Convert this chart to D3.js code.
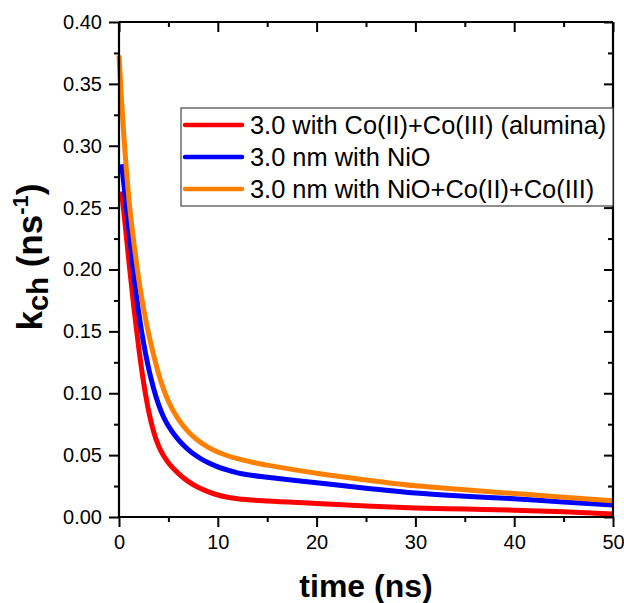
<!DOCTYPE html>
<html><head><meta charset="utf-8">
<script src="https://cdn.jsdelivr.net/npm/d3@7"></script>
<style>
html,body{margin:0;padding:0;background:#fff;}
text{font-family:"Liberation Sans",Arial,sans-serif;}
</style></head>
<body><svg id="c" width="624" height="603"></svg>
<script>
const seriesNames = ["3.0 with Co(II)+Co(III) (alumina)", "3.0 nm with NiO", "3.0 nm with NiO+Co(II)+Co(III)"];
const seriesColors = ["#ff0000", "#0000ff", "#ff8000"];

const redT = [0.25,0.5,1,1.5,2,2.5,3,3.5,4,4.5,5,6,7,8,9,10,11,12,13,15,20,25,30,35,40,45,50];
const redV = [0.263,0.2456,0.2066,0.1696,0.1366,0.1081,0.0856,0.0691,0.0576,0.0496,0.0438,0.0353,0.0288,0.0240,0.0205,0.0178,0.0160,0.0148,0.0140,0.0129,0.011,0.0089,0.0073,0.0064,0.0055,0.0042,0.0025];

const blueT = [0.27,0.5,1,1.5,2,2.5,3,3.5,4,4.5,5,6,7,8,9,10,11,12,13,15,20,25,30,35,40,45,50];
const blueV = [0.285,0.268,0.232,0.196,0.165,0.140,0.120,0.104,0.091,0.081,0.0735,0.0625,0.0545,0.0485,0.0440,0.0405,0.0378,0.0357,0.0342,0.0322,0.0277,0.0233,0.0193,0.0168,0.0148,0.0122,0.0097];

const orangeT = [0,0.25,0.5,0.75,1,1.5,2,2.5,3,3.5,4,4.5,5,6,7,8,9,10,11,12,13,15,20,25,30,35,40,45,50];
const orangeV = [0.373,0.338,0.307,0.280,0.257,0.222,0.192,0.168,0.148,0.131,0.116,0.1035,0.0935,0.0790,0.0690,0.0618,0.0565,0.0525,0.0495,0.0471,0.0451,0.0419,0.0353,0.0299,0.0252,0.022,0.019,0.016,0.0132];

const xMajor = [0,10,20,30,40,50];
const yMajor = [0,0.05,0.10,0.15,0.20,0.25,0.30,0.35,0.40];

const svg = d3.select("#c");
const L=119, R=613, T=22, B=517;
const x = d3.scaleLinear().domain([0,50]).range([L,R]);
const y = d3.scaleLinear().domain([0,0.40]).range([B,T]);

const series = [
  {t:redT, v:redV}, {t:blueT, v:blueV}, {t:orangeT, v:orangeV}
];

// curves
const line = d3.line().x(d=>x(d[0])).y(d=>y(d[1])).curve(d3.curveMonotoneX);
series.forEach((s,i)=>{
  svg.append("path").datum(s.t.map((t,j)=>[t,s.v[j]]))
    .attr("d", line).attr("fill","none").attr("stroke",seriesColors[i])
    .attr("stroke-width",5).attr("stroke-linejoin","round");
});

const xMinor = d3.range(5,50,10);
const yMinor = d3.range(0.025,0.40,0.05);

// axes
const fmtY = d3.format(".2f");
const gL = svg.append("g").attr("transform",`translate(${L},0)`)
  .call(d3.axisLeft(y).tickValues(yMajor).tickFormat(fmtY).tickSize(10).tickPadding(7));
const gLm = svg.append("g").attr("transform",`translate(${L},0)`)
  .call(d3.axisLeft(y).tickValues(yMinor).tickFormat("").tickSize(5));
const gB = svg.append("g").attr("transform",`translate(0,${B})`)
  .call(d3.axisBottom(x).tickValues(xMajor).tickFormat(d3.format("d")).tickSize(10).tickPadding(8));
const gBm = svg.append("g").attr("transform",`translate(0,${B})`)
  .call(d3.axisBottom(x).tickValues(xMinor).tickFormat("").tickSize(5));
const gT = svg.append("g").attr("transform",`translate(0,${T})`)
  .call(d3.axisBottom(x).tickValues(xMajor).tickFormat("").tickSize(10));
const gTm = svg.append("g").attr("transform",`translate(0,${T})`)
  .call(d3.axisBottom(x).tickValues(xMinor).tickFormat("").tickSize(5));
const gR = svg.append("g").attr("transform",`translate(${R},0)`)
  .call(d3.axisLeft(y).tickValues(yMajor).tickFormat("").tickSize(9));
const gRm = svg.append("g").attr("transform",`translate(${R},0)`)
  .call(d3.axisLeft(y).tickValues(yMinor).tickFormat("").tickSize(5));

[gL,gLm,gB,gBm,gT,gTm,gR,gRm].forEach(g=>{
  g.select(".domain").attr("stroke","#000").attr("stroke-width",2.2);
  g.selectAll(".tick line").attr("stroke","#000").attr("stroke-width",2);
  g.selectAll(".tick text").attr("font-size",20).attr("fill","#000")
    .attr("font-family","'Liberation Sans',Arial,sans-serif");
});
gB.selectAll(".domain").attr("d",`M${L},0H${R}`);
gT.selectAll(".domain").attr("d",`M${L},0H${R}`);
gL.selectAll(".domain").attr("d",`M0,${B}V${T}`);
gR.selectAll(".domain").attr("d",`M0,${B}V${T}`);
[gLm,gBm,gTm,gRm].forEach(g=>g.select(".domain").remove());

// legend
const lg = svg.append("g");
lg.append("rect").attr("x",181).attr("y",108).attr("width",432).attr("height",98)
  .attr("fill","#fff").attr("stroke","#444").attr("stroke-width",1.2);
const rowsY = [125,157,189];
seriesNames.forEach((n,i)=>{
  lg.append("line").attr("x1",185).attr("x2",242).attr("y1",rowsY[i]).attr("y2",rowsY[i])
    .attr("stroke",seriesColors[i]).attr("stroke-width",4.5).attr("stroke-linecap","round");
  lg.append("text").attr("x",250).attr("y",rowsY[i]+8.5).attr("font-size",25.4)
    .attr("fill","#000").text(n);
});

// axis titles
svg.append("text").attr("x",366).attr("y",597).attr("text-anchor","middle")
  .attr("font-size",32).attr("font-weight","bold").text("time (ns)");

const yt = svg.append("text").attr("transform","translate(42,257) rotate(-90)")
  .attr("text-anchor","middle").attr("font-size",35).attr("font-weight","bold");
yt.append("tspan").text("k");
yt.append("tspan").attr("font-size",29).attr("dy",6).text("ch");
yt.append("tspan").attr("dy",-6).text(" (ns");
yt.append("tspan").attr("font-size",22).attr("dy",-14).text("-1");
yt.append("tspan").attr("dy",14).text(")");
</script></body></html>
